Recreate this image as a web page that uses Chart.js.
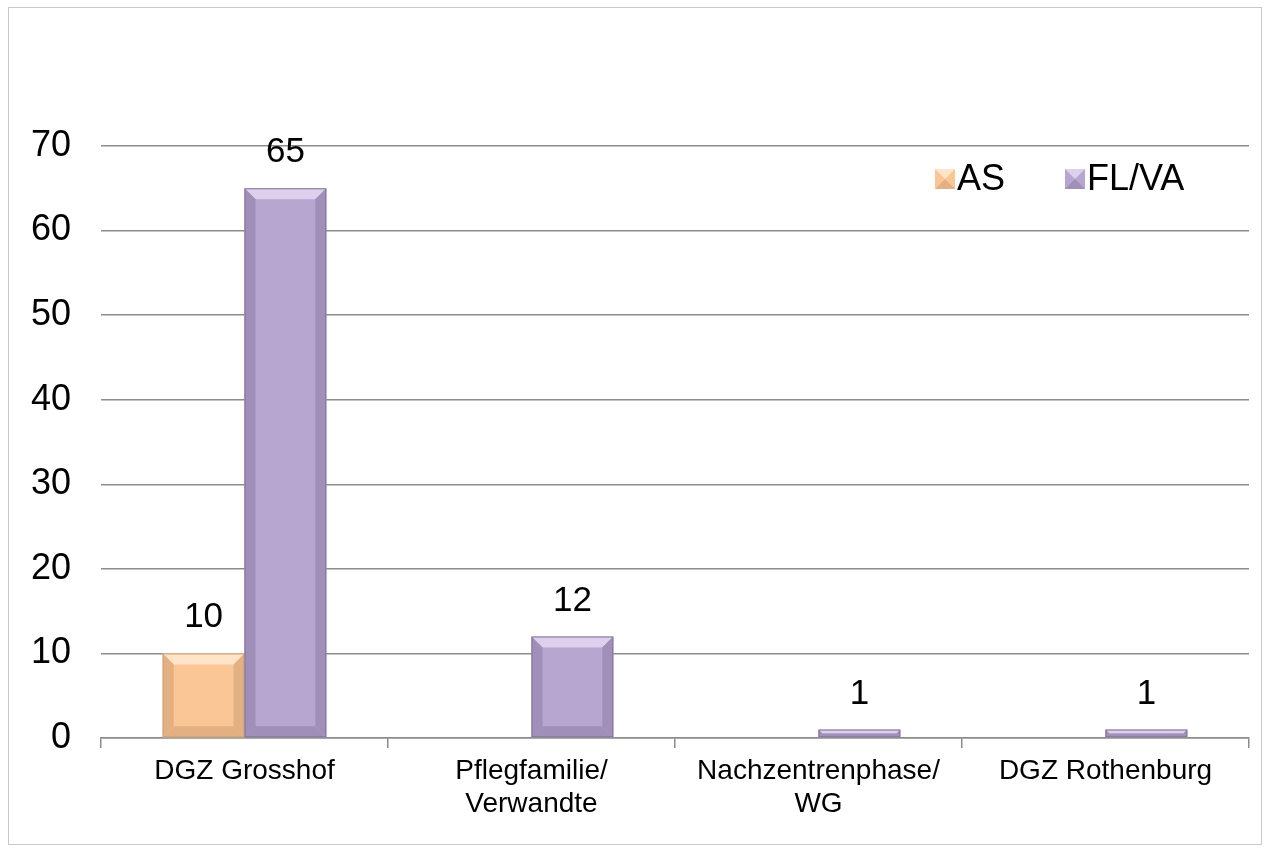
<!DOCTYPE html>
<html>
<head>
<meta charset="utf-8">
<script src="https://cdn.jsdelivr.net/npm/chart.js@4.4.1/dist/chart.umd.min.js"></script>
<style>
  html, body { margin: 0; padding: 0; background: #fff; }
  #wrap { position: relative; width: 1269px; height: 849px; }
  #frame { position: absolute; left: 8px; top: 7px; width: 1254px; height: 838px; border: 1px solid #c8c8c8; box-sizing: border-box; }
  canvas { position: absolute; left: 0; top: 0; }
</style>
</head>
<body>
<div id="wrap">
  <div id="frame"></div>
  <canvas id="chart" width="1269" height="849"></canvas>
</div>
<script>
// Kategorien und Werte
const categories = [
  ["DGZ Grosshof"],
  ["Pflegfamilie/", "Verwandte"],
  ["Nachzentrenphase/", "WG"],
  ["DGZ Rothenburg"],
];
const seriesNames = ["AS", "FL/VA"];
const asValues = [10, null, null, null];
const flvaValues = [65, 12, 1, 1];
const yTicks = [0, 10, 20, 30, 40, 50, 60, 70];

const FONT = "'Liberation Sans', Arial, sans-serif";
const colors = {
  AS: { fill: "rgb(251, 198, 150)", light: "rgb(255, 228, 200)", dark: "rgb(226, 176, 130)", edge: "rgb(205, 160, 118)" },
  "FL/VA": { fill: "rgb(183, 166, 208)", light: "rgb(220, 208, 236)", dark: "rgb(160, 143, 184)", edge: "rgb(132, 118, 152)" },
};

// Legende oben rechts im Diagramm
const legendPlugin = {
  id: "insideLegend",
  afterDraw(chart) {
    const ctx = chart.ctx;
    const area = chart.chartArea;
    ctx.save();
    ctx.font = "36px " + FONT;
    ctx.textBaseline = "middle";
    const y = area.top + 33;
    const starts = [area.right - 314, area.right - 184];
    seriesNames.forEach((name, i) => {
      const x = starts[i];
      const c = colors[name];
      ctx.fillStyle = c.fill;
      ctx.fillRect(x, y - 10, 20, 20);
      ctx.fillStyle = c.light;
      ctx.beginPath();
      ctx.moveTo(x, y - 10); ctx.lineTo(x + 20, y - 10); ctx.lineTo(x + 10, y); ctx.closePath();
      ctx.fill();
      ctx.fillStyle = c.dark;
      ctx.beginPath();
      ctx.moveTo(x, y + 10); ctx.lineTo(x + 20, y + 10); ctx.lineTo(x + 10, y); ctx.closePath();
      ctx.fill();
      ctx.fillStyle = "#000";
      ctx.fillText(name, x + 22, y + 1);
    });
    ctx.restore();
  },
};

// Werte über den Balken + Abschrägung
const barLabelPlugin = {
  id: "barLabels",
  afterDatasetsDraw(chart) {
    const ctx = chart.ctx;
    ctx.save();
    chart.data.datasets.forEach((ds, di) => {
      const meta = chart.getDatasetMeta(di);
      const c = colors[ds.label];
      meta.data.forEach((bar, i) => {
        const v = ds.data[i];
        if (v === null || v === undefined) return;
        const left = bar.x - bar.width / 2;
        const right = bar.x + bar.width / 2;
        const top = bar.y;
        const bottom = bar.base;
        const b = Math.min(11, (bottom - top) / 2);
        // Abschrägung oben (hell)
        ctx.fillStyle = c.light;
        ctx.beginPath();
        ctx.moveTo(left, top); ctx.lineTo(right, top); ctx.lineTo(right - b, top + b); ctx.lineTo(left + b, top + b);
        ctx.closePath(); ctx.fill();
        // Seiten und unten (etwas dunkler)
        ctx.fillStyle = c.dark;
        ctx.beginPath();
        ctx.moveTo(right, top); ctx.lineTo(right, bottom); ctx.lineTo(right - b, bottom - b); ctx.lineTo(right - b, top + b);
        ctx.closePath(); ctx.fill();
        ctx.beginPath();
        ctx.moveTo(left, top); ctx.lineTo(left, bottom); ctx.lineTo(left + b, bottom - b); ctx.lineTo(left + b, top + b);
        ctx.closePath(); ctx.fill();
        ctx.beginPath();
        ctx.moveTo(left, bottom); ctx.lineTo(right, bottom); ctx.lineTo(right - b, bottom - b); ctx.lineTo(left + b, bottom - b);
        ctx.closePath(); ctx.fill();
        ctx.strokeStyle = c.edge;
        ctx.lineWidth = 1;
        ctx.strokeRect(left + 0.5, top + 0.5, right - left - 1, bottom - top - 1);
        // Wert
        ctx.fillStyle = "#000";
        ctx.font = "35px " + FONT;
        ctx.textAlign = "center";
        ctx.textBaseline = "alphabetic";
        ctx.fillText(String(v), bar.x, top - 26);
      });
    });
    ctx.restore();
  },
};

new Chart(document.getElementById("chart").getContext("2d"), {
  type: "bar",
  data: {
    labels: categories,
    datasets: [
      {
        label: seriesNames[0],
        data: asValues,
        backgroundColor: colors.AS.fill,
        borderWidth: 0,
      },
      {
        label: seriesNames[1],
        data: flvaValues,
        backgroundColor: colors["FL/VA"].fill,
        borderWidth: 0,
      },
    ],
  },
  options: {
    responsive: false,
    animation: false,
    layout: { padding: { left: 0, right: 20, top: 146, bottom: 0 } },
    plugins: {
      legend: { display: false },
      tooltip: { enabled: false },
    },
    datasets: {
      bar: { categoryPercentage: 0.57, barPercentage: 1.0 },
    },
    scales: {
      x: {
        grid: {
          offset: true,
          drawOnChartArea: false,
          drawTicks: true,
          tickLength: 10,
          color: "#8c8c8c",
          lineWidth: 1.5,
        },
        border: { color: "#8c8c8c", width: 1.5 },
        ticks: {
          color: "#000",
          font: { family: FONT, size: 28 },
          padding: 6,
          maxRotation: 0,
        },
        afterFit(scale) { scale.height = 111; },
      },
      y: {
        min: 0,
        max: 70,
        afterBuildTicks(scale) { scale.ticks = yTicks.map((v) => ({ value: v })); },
        grid: { color: "#8c8c8c", lineWidth: 1.5, drawTicks: false },
        border: { display: false },
        ticks: {
          color: "#000",
          font: { family: FONT, size: 36 },
          padding: 30,
        },
        afterFit(scale) { scale.width = 101; },
      },
    },
  },
  plugins: [barLabelPlugin, legendPlugin],
});
</script>
</body>
</html>
